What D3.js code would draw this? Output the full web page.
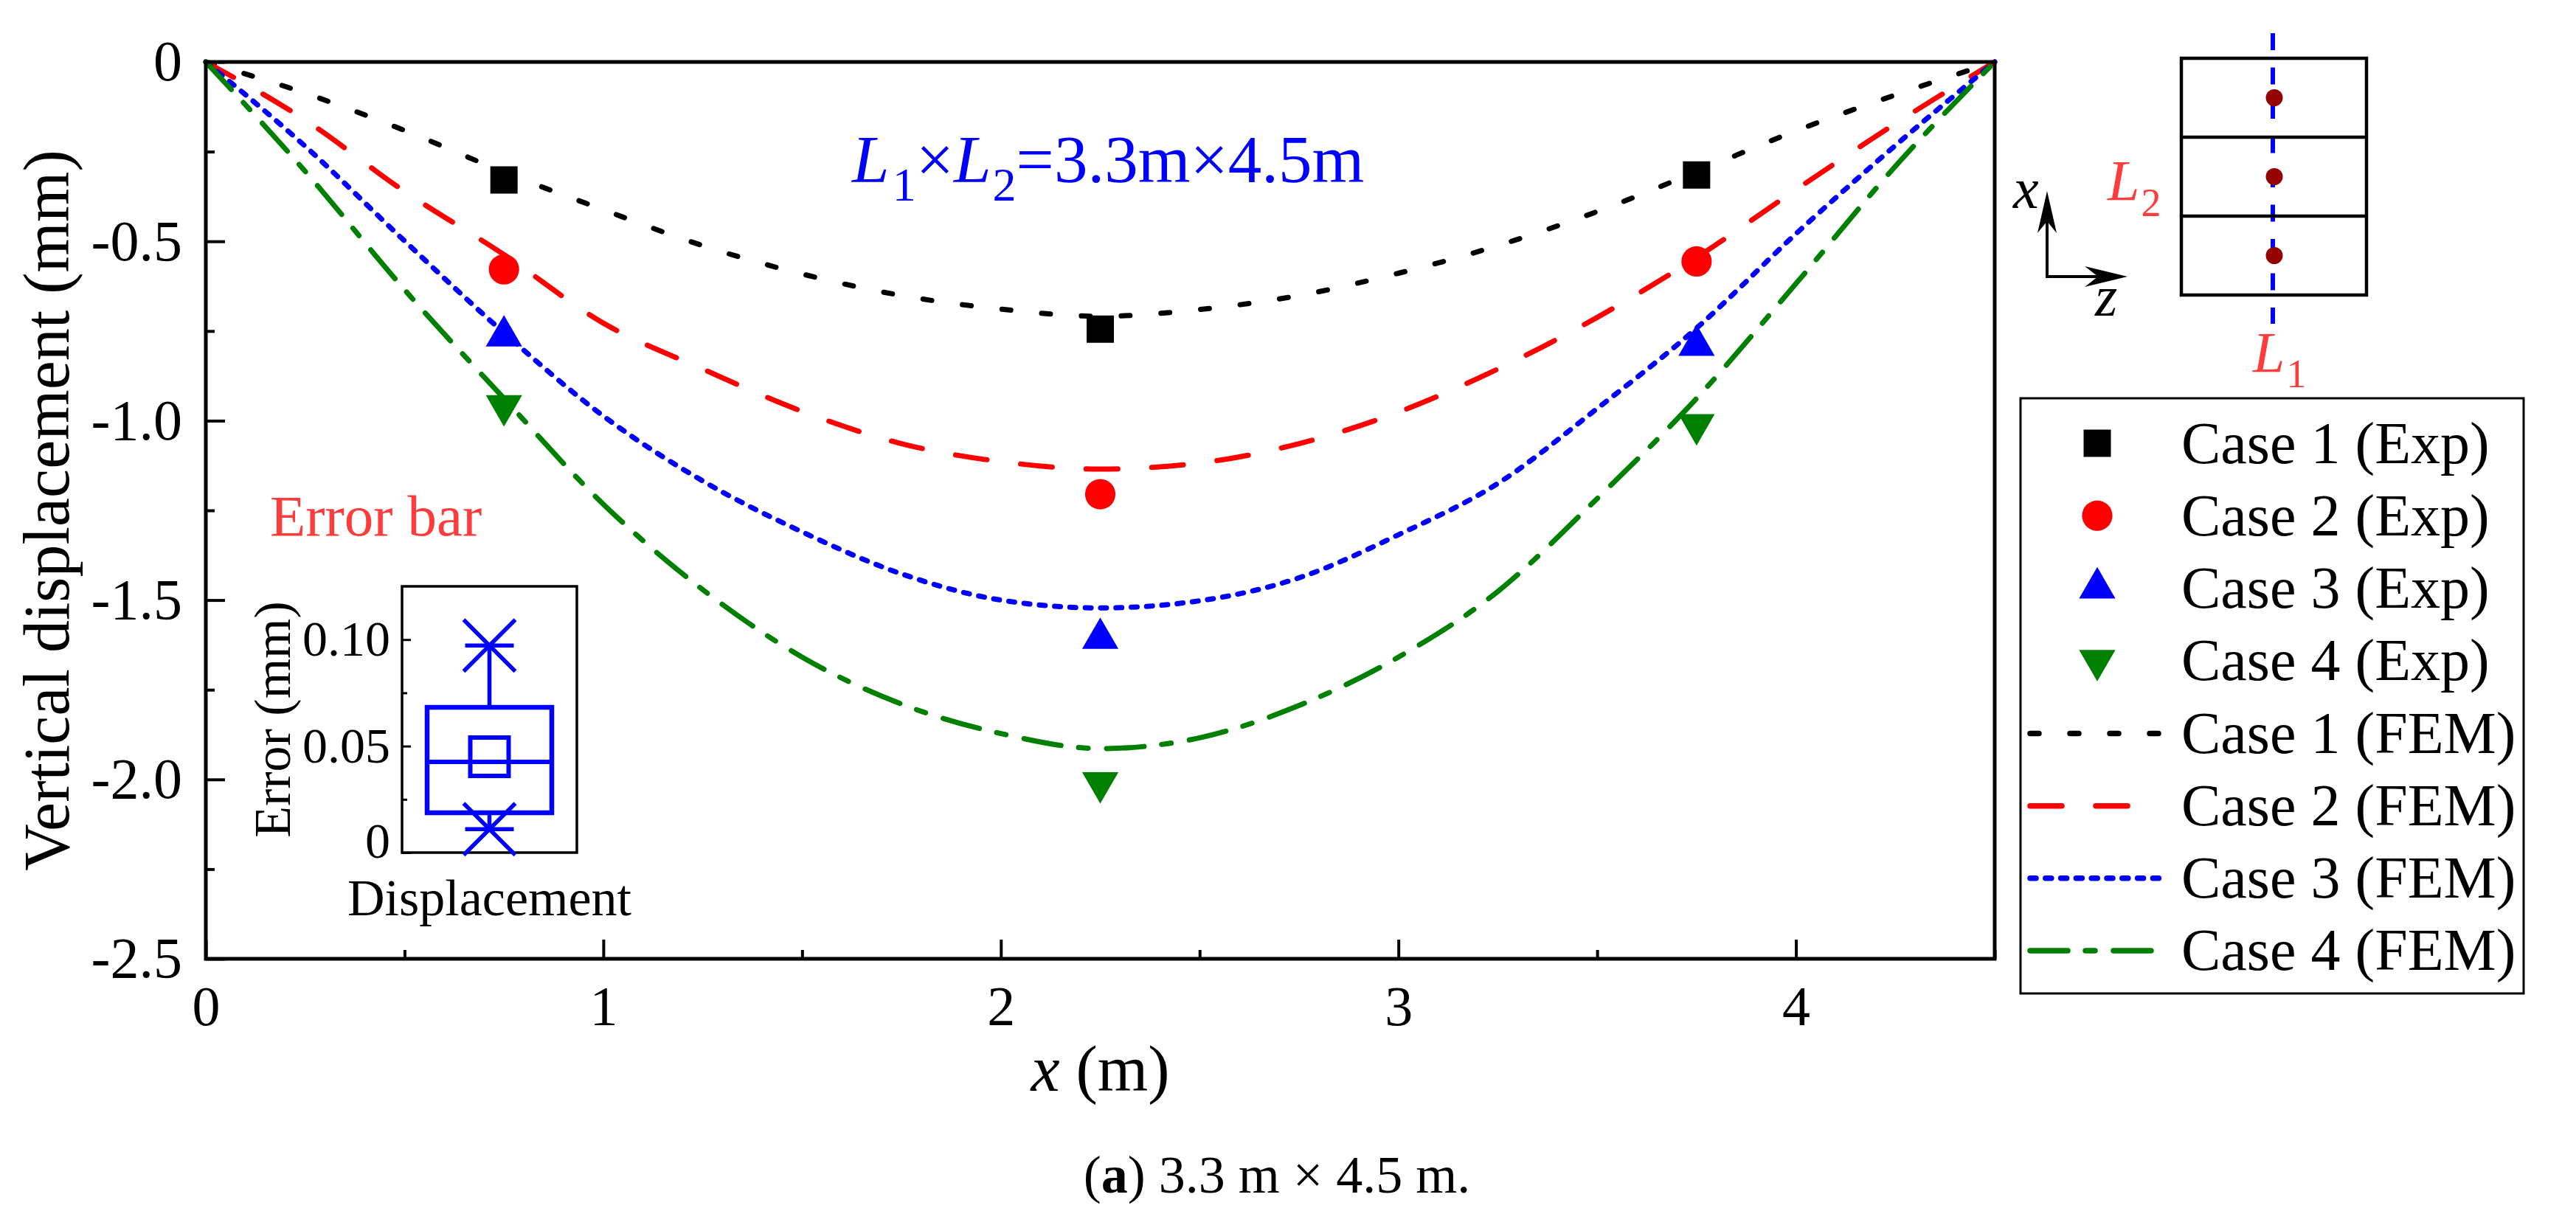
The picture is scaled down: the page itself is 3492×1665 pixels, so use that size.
<!DOCTYPE html>
<html><head><meta charset="utf-8">
<script src="https://cdn.jsdelivr.net/npm/d3@7"></script>
<style>
html,body{margin:0;padding:0;background:#fff;}
svg{display:block;}
text{font-family:"Liberation Serif","Times New Roman",serif;}
</style>
</head><body>
<svg id="chart" width="3492" height="1665"></svg>
<script>
// ---------------- data ----------------
const xFem = [0, 0.25, 0.5, 0.75, 1.0, 1.25, 1.5, 1.75, 2.0, 2.25, 2.5, 2.75, 3.0, 3.25, 3.5, 3.75, 4.0, 4.25, 4.5];
const fem1 = [0, -0.087, -0.191, -0.307, -0.412, -0.512, -0.591, -0.651, -0.689, -0.709, -0.690, -0.651, -0.589, -0.512, -0.417, -0.306, -0.192, -0.092, 0];
const fem2 = [0, -0.162, -0.361, -0.537, -0.728, -0.856, -0.974, -1.064, -1.114, -1.135, -1.118, -1.064, -0.976, -0.856, -0.712, -0.545, -0.356, -0.172, 0];
const fem3 = [0, -0.235, -0.499, -0.755, -0.987, -1.168, -1.310, -1.427, -1.500, -1.522, -1.502, -1.438, -1.318, -1.175, -0.966, -0.742, -0.479, -0.233, 0];
const fem4 = [0, -0.305, -0.635, -0.938, -1.233, -1.471, -1.659, -1.790, -1.872, -1.914, -1.884, -1.794, -1.659, -1.476, -1.217, -0.938, -0.618, -0.291, 0];
const xExp = [0.75, 2.25, 3.75];
const exp1 = [-0.329, -0.745, -0.315];
const exp2 = [-0.578, -1.205, -0.556];
const exp3 = [-0.764, -1.607, -0.790];
const exp4 = [-0.958, -2.009, -1.011];
const caseNames = ["Case 1", "Case 2", "Case 3", "Case 4"];
const xTicks = [0, 1, 2, 3, 4];
const xMinorTicks = [0.5, 1.5, 2.5, 3.5, 4.5];
const yTicks = [0, -0.5, -1.0, -1.5, -2.0, -2.5];
const yMinorTicks = [-0.25, -0.75, -1.25, -1.75, -2.25];
// error box-plot statistics (mm)
const errMin = 0.011, errQ1 = 0.0187, errMedian = 0.0426, errMean = 0.045, errQ3 = 0.0682, errMax = 0.0972;
const errTicks = [0, 0.05, 0.10];
const errMinorTicks = [0.025, 0.075];
const errCategory = ["Displacement"];

// ---------------- styles ----------------
const colors = ["#000000", "#ff0000", "#0000ff", "#008000"];
const dashes = ["12,42", "43,46", "8,12.8", "51,24,13,25"];
const FONT = '"Liberation Serif","Times New Roman",serif';
const lightRed = "#ff3c3c";

const W = 3492, H = 1665;
const P = {l: 279, r: 2704, t: 84, b: 1300};
const svg = d3.select("#chart");
svg.append("rect").attr("width", W).attr("height", H).attr("fill", "#fff");

const x = d3.scaleLinear().domain([0, 4.5]).range([P.l, P.r]);
const y = d3.scaleLinear().domain([-2.5, 0]).range([P.b, P.t]);

// symbols
const symSquare = d3.symbol().type(d3.symbolSquare).size(1369);
const symCircle = d3.symbol().type(d3.symbolCircle).size(1330);
const symTri = d3.symbol().type(d3.symbolTriangle).size(1050);
const markers = [
  {path: symSquare(), rot: 0},
  {path: symCircle(), rot: 0},
  {path: symTri(), rot: 0},
  {path: symTri(), rot: 180}
];

// ---------------- axes ----------------
function styleAxis(g, fs) {
  g.attr("font-family", FONT).attr("font-size", fs);
  g.selectAll(".domain").remove();
  g.selectAll(".tick line").attr("stroke", "#000").attr("stroke-width", 4);
  g.selectAll(".tick text").attr("fill", "#000");
}
const gx = svg.append("g").attr("transform", `translate(0,${P.b})`)
  .call(d3.axisBottom(x).tickValues(xTicks).tickSize(-26).tickSizeOuter(0).tickPadding(36).tickFormat(d => String(d)));
styleAxis(gx, 76);
const gxm = svg.append("g").attr("transform", `translate(0,${P.b})`)
  .call(d3.axisBottom(x).tickValues(xMinorTicks).tickSize(-12).tickSizeOuter(0).tickFormat(""));
styleAxis(gxm, 76);
const gy = svg.append("g").attr("transform", `translate(${P.l},0)`)
  .call(d3.axisLeft(y).tickValues(yTicks).tickSize(-26).tickSizeOuter(0).tickPadding(32)
    .tickFormat(d => d === 0 ? "0" : d.toFixed(1)));
styleAxis(gy, 78);
const gym = svg.append("g").attr("transform", `translate(${P.l},0)`)
  .call(d3.axisLeft(y).tickValues(yMinorTicks).tickSize(-12).tickSizeOuter(0).tickFormat(""));
styleAxis(gym, 78);

// ---------------- FEM lines ----------------
const line = d3.line().x(d => x(d[0])).y(d => y(d[1])).curve(d3.curveMonotoneX);
[fem1, fem2, fem3, fem4].forEach((s, i) => {
  svg.append("path").datum(xFem.map((xv, j) => [xv, s[j]]))
    .attr("d", line).attr("fill", "none").attr("stroke", colors[i])
    .attr("stroke-width", 7).attr("stroke-linecap", "round").attr("stroke-linejoin", "round")
    .attr("stroke-dasharray", dashes[i]);
});

// ---------------- Exp markers ----------------
[exp1, exp2, exp3, exp4].forEach((s, i) => {
  svg.append("g").selectAll("path").data(xExp.map((xv, j) => [xv, s[j]])).join("path")
    .attr("d", markers[i].path)
    .attr("transform", d => `translate(${x(d[0])},${y(d[1])}) rotate(${markers[i].rot})`)
    .attr("fill", colors[i]);
});

// frame
svg.append("rect").attr("x", P.l).attr("y", P.t).attr("width", P.r - P.l).attr("height", P.b - P.t)
  .attr("fill", "none").attr("stroke", "#000").attr("stroke-width", 5);

// axis titles
svg.append("text").attr("transform", `translate(93,${(P.t + P.b) / 2}) rotate(-90)`)
  .attr("text-anchor", "middle").attr("font-size", 88).text("Vertical displacement (mm)");
const xt = svg.append("text").attr("x", (P.l + P.r) / 2).attr("y", 1479).attr("text-anchor", "middle").attr("font-size", 88);
xt.append("tspan").attr("font-style", "italic").text("x");
xt.append("tspan").text(" (m)");

// title annotation
const tt = svg.append("text").attr("x", 1155).attr("y", 247).attr("font-size", 91).attr("fill", "#0000ff");
tt.append("tspan").attr("font-style", "italic").text("L");
tt.append("tspan").attr("font-size", 64).attr("dy", 25).attr("dx", 4).text("1");
tt.append("tspan").attr("dy", -25).text("\u00d7");
tt.append("tspan").attr("font-style", "italic").text("L");
tt.append("tspan").attr("font-size", 64).attr("dy", 25).attr("dx", 2).text("2");
tt.append("tspan").attr("dy", -25).text("=3.3m\u00d74.5m");

// "Error bar"
svg.append("text").attr("x", 366).attr("y", 726).attr("font-size", 79).attr("fill", lightRed).text("Error bar");

// ---------------- inset box plot ----------------
const IB = {l: 545, r: 782, t: 795, b: 1156};
const ye = d3.scaleLinear().domain([0, 0.125]).range([IB.b, IB.t]);
const xe = d3.scalePoint().domain(errCategory).range([IB.l, IB.r]).padding(0.5);
const gi = svg.append("g");
const gie = gi.append("g").attr("transform", `translate(${IB.l},0)`)
  .call(d3.axisLeft(ye).tickValues(errTicks).tickSize(-12).tickSizeOuter(0).tickPadding(16)
    .tickFormat(d => d === 0 ? "0" : d.toFixed(2)));
styleAxis(gie, 68);
gie.selectAll(".tick line").attr("stroke-width", 3);
gie.selectAll(".tick text").attr("dy", d => d === 0 ? "0.1em" : "0.32em");
const giem = gi.append("g").attr("transform", `translate(${IB.l},0)`)
  .call(d3.axisLeft(ye).tickValues(errMinorTicks).tickSize(-7).tickSizeOuter(0).tickFormat(""));
styleAxis(giem, 68);
giem.selectAll(".tick line").attr("stroke-width", 3);
gi.append("rect").attr("x", IB.l).attr("y", IB.t).attr("width", IB.r - IB.l).attr("height", IB.b - IB.t)
  .attr("fill", "none").attr("stroke", "#000").attr("stroke-width", 3.5);
gi.append("text").attr("transform", `translate(393,${(IB.t + IB.b) / 2}) rotate(-90)`)
  .attr("text-anchor", "middle").attr("font-size", 70).text("Error (mm)");
gi.append("text").attr("x", xe("Displacement")).attr("y", 1241).attr("text-anchor", "middle")
  .attr("font-size", 70).text("Displacement");

const cx = xe("Displacement"), bw = 169;
const blue = "#0000ff";
// whiskers
gi.append("line").attr("x1", cx).attr("x2", cx).attr("y1", ye(errQ3)).attr("y2", ye(errMax))
  .attr("stroke", blue).attr("stroke-width", 5.5);
gi.append("line").attr("x1", cx).attr("x2", cx).attr("y1", ye(errQ1)).attr("y2", ye(errMin))
  .attr("stroke", blue).attr("stroke-width", 5.5);
// box
gi.append("rect").attr("x", cx - bw / 2).attr("y", ye(errQ3)).attr("width", bw).attr("height", ye(errQ1) - ye(errQ3))
  .attr("fill", "none").attr("stroke", blue).attr("stroke-width", 6.5);
gi.append("line").attr("x1", cx - bw / 2).attr("x2", cx + bw / 2).attr("y1", ye(errMedian)).attr("y2", ye(errMedian))
  .attr("stroke", blue).attr("stroke-width", 6);
// mean square
gi.append("rect").attr("x", cx - 26).attr("y", ye(errMean) - 26).attr("width", 52).attr("height", 52)
  .attr("fill", "none").attr("stroke", blue).attr("stroke-width", 6);
// min/max stars
[errMin, errMax].forEach(v => {
  const g = gi.append("g").attr("transform", `translate(${cx},${ye(v)})`)
    .attr("stroke", blue).attr("stroke-width", 5.5);
  g.append("line").attr("x1", -35).attr("y1", -35).attr("x2", 35).attr("y2", 35);
  g.append("line").attr("x1", -35).attr("y1", 35).attr("x2", 35).attr("y2", -35);
  g.append("line").attr("x1", -33).attr("y1", 0).attr("x2", 33).attr("y2", 0);
});

// ---------------- schematic (top right) ----------------
const sg = svg.append("g");
const S = {l: 2957, r: 3208, t: 79, b: 400};
const panels = [0, 1, 2];
const ph = (S.b - S.t) / 3;
sg.append("line").attr("x1", 3081).attr("x2", 3081).attr("y1", 45).attr("y2", 439)
  .attr("stroke", "#0000ff").attr("stroke-width", 6).attr("stroke-dasharray", "23,23.5");
sg.append("rect").attr("x", S.l).attr("y", S.t).attr("width", S.r - S.l).attr("height", S.b - S.t)
  .attr("fill", "none").attr("stroke", "#000").attr("stroke-width", 4.5);
[1, 2].forEach(k => sg.append("line").attr("x1", S.l).attr("x2", S.r)
  .attr("y1", S.t + k * ph).attr("y2", S.t + k * ph).attr("stroke", "#000").attr("stroke-width", 4.5));
sg.selectAll("circle.pt").data(panels).join("circle").attr("class", "pt")
  .attr("cx", 3083).attr("cy", k => S.t + (k + 0.5) * ph).attr("r", 11.5).attr("fill", "#950000");
// coordinate arrows
sg.append("line").attr("x1", 2775).attr("x2", 2775).attr("y1", 377).attr("y2", 300).attr("stroke", "#000").attr("stroke-width", 4);
sg.append("line").attr("x1", 2773).attr("x2", 2846).attr("y1", 375).attr("y2", 375).attr("stroke", "#000").attr("stroke-width", 4);
sg.append("path").attr("d", "M2775,259 L2788,316 L2775,300 L2762,316 Z").attr("fill", "#000");
sg.append("path").attr("d", "M2884,375 L2826,361 L2844,375 L2826,389 Z").attr("fill", "#000");
sg.append("text").attr("x", 2729).attr("y", 282).attr("font-size", 78).attr("font-style", "italic").text("x");
sg.append("text").attr("x", 2840).attr("y", 428).attr("font-size", 78).attr("font-style", "italic").text("z");
const l2 = sg.append("text").attr("x", 2857).attr("y", 271).attr("font-size", 78).attr("fill", lightRed);
l2.append("tspan").attr("font-style", "italic").text("L");
l2.append("tspan").attr("font-size", 54).attr("dy", 22).attr("dx", 2).text("2");
const l1 = sg.append("text").attr("x", 3054).attr("y", 504).attr("font-size", 78).attr("fill", lightRed);
l1.append("tspan").attr("font-style", "italic").text("L");
l1.append("tspan").attr("font-size", 54).attr("dy", 21).attr("dx", 2).text("1");

// ---------------- legend ----------------
const L = {l: 2739, t: 540, w: 682, h: 807};
const lg = svg.append("g");
lg.append("rect").attr("x", L.l).attr("y", L.t).attr("width", L.w).attr("height", L.h)
  .attr("fill", "#fff").attr("stroke", "#000").attr("stroke-width", 3);
const legendRows = caseNames.map((n, i) => ({label: n + " (Exp)", i, type: "m"}))
  .concat(caseNames.map((n, i) => ({label: n + " (FEM)", i, type: "l"})));
const rowY = d3.scaleLinear().domain([0, 7]).range([628, 1315]);
legendRows.forEach((r, k) => {
  const by = rowY(k), cy = by - 27;
  if (r.type === "m") {
    lg.append("path").attr("d", markers[r.i].path)
      .attr("transform", `translate(2843,${cy}) rotate(${markers[r.i].rot})`).attr("fill", colors[r.i]);
  } else {
    lg.append("line").attr("x1", 2752).attr("x2", 2928).attr("y1", cy + 1).attr("y2", cy + 1)
      .attr("stroke", colors[r.i]).attr("stroke-width", 7.5).attr("stroke-linecap", "round")
      .attr("stroke-dasharray", dashes[r.i]);
  }
  lg.append("text").attr("x", 2957).attr("y", by).attr("font-size", 80).text(r.label);
});

// ---------------- caption ----------------
const cap = svg.append("text").attr("x", 1731).attr("y", 1617).attr("text-anchor", "middle").attr("font-size", 72);
cap.append("tspan").text("(");
cap.append("tspan").attr("font-weight", "bold").text("a");
cap.append("tspan").text(") 3.3 m \u00d7 4.5 m.");
</script>
</body></html>
